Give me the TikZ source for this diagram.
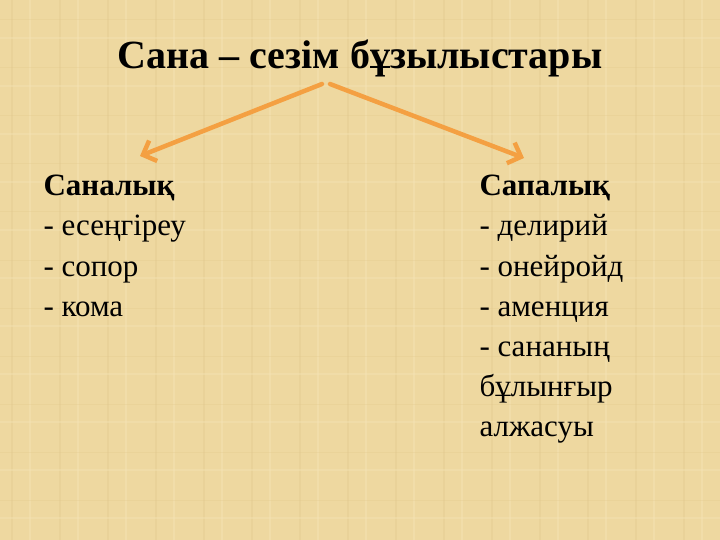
\documentclass[tikz,border=0pt]{standalone}
\usepackage{fontspec}
\setmainfont{Liberation Serif}
\usetikzlibrary{arrows.meta}
\definecolor{bgtan}{RGB}{238,216,160}
\definecolor{bgdark}{RGB}{226,200,140}
\definecolor{bglight}{RGB}{245,228,182}
\definecolor{arrowor}{RGB}{244,160,66}
\tikzset{
  title/.style={anchor=base, font=\fontsize{40}{46}\selectfont\bfseries},
  head/.style={anchor=base west, font=\fontsize{31}{36}\selectfont\bfseries},
  item/.style={anchor=base west, font=\fontsize{31}{36}\selectfont},
  conn/.style={draw=arrowor, line width=4.5pt, line cap=round,
    -{Straight Barb[length=11pt,width=22pt,line width=4.5pt]}}
}
\begin{document}
\begin{tikzpicture}[x=1pt,y=-1pt]
\fill[bgtan] (0,0) rectangle (720,540);
\useasboundingbox (0,0) rectangle (720,540);
% faint weave texture
\foreach \i in {0,...,15} {
  \draw[bgdark, line width=1.2pt, opacity=0.35] (\i*48+12,0) -- (\i*48+12,540);
  \draw[bglight, line width=2pt, opacity=0.45] (\i*48+30,0) -- (\i*48+30,540);
}
\foreach \j in {0,...,11} {
  \draw[bgdark, line width=1pt, opacity=0.3] (0,\j*48+20) -- (720,\j*48+20);
  \draw[bglight, line width=2pt, opacity=0.4] (0,\j*48+38) -- (720,\j*48+38);
}
\node[title] (t) at (360,69) {Сана – сезім бұзылыстары};
\coordinate (ls) at (322,84);
\coordinate (rs) at (330,84);
\node[head] (l1) at (40,196) {Саналық};
\node[item] (l2) at (40,236) {- есеңгіреу};
\node[item] (l3) at (40,276) {- сопор};
\node[item] (l4) at (40,316) {- кома};
\node[head] (r1) at (476,196) {Сапалық};
\node[item] (r2) at (476,236) {- делирий};
\node[item] (r3) at (476,276) {- онейройд};
\node[item] (r4) at (476,316) {- аменция};
\node[item] (r5) at (476,356) {- сананың};
\node[item] (r6) at (476,396) {бұлынғыр};
\node[item] (r7) at (476,436) {алжасуы};
\coordinate (lt) at (140,156);
\coordinate (rt) at (524,158);
\draw[conn] (ls) -- (lt);
\draw[conn] (rs) -- (rt);
\end{tikzpicture}
\end{document}
